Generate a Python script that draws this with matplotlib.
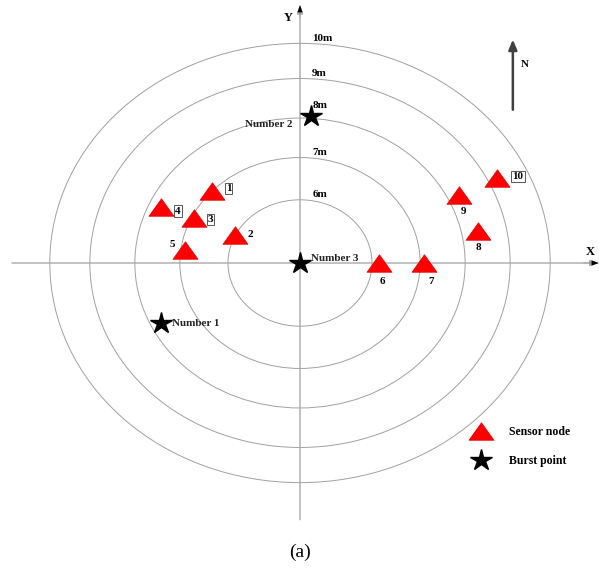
import matplotlib.pyplot as plt
from matplotlib.patches import Circle
from matplotlib.path import Path

# ring radii (plot units) and their labels
ring_labels = ["6m", "7m", "8m", "9m", "10m"]
ring_r = [1.6, 2.67, 3.67, 4.67, 5.56]
ring_label_gap = [0.14, 0.14, 0.33, 0.14, 0.12]

# sensor nodes
node_ids = ["1", "2", "3", "4", "5", "6", "7", "8", "9", "10"]
node_x = [-1.96, -1.44, -2.36, -3.09, -2.56, 1.76, 2.76, 3.96, 3.53, 4.38]
node_y = [1.82, 0.71, 1.14, 1.42, 0.33, 0.0, 0.0, 0.81, 1.72, 2.15]
node_boxed = [True, False, True, True, False, False, False, False, False, True]

# burst points
burst_names = ["Number 1", "Number 2", "Number 3"]
burst_x = [-3.09, 0.24, 0.0]
burst_y = [-1.52, 3.72, 0.0]

# label offsets for each node number (points)
label_dx = [12, 11, 12, 12, -9, 2, 5, 0, 3, 15]
label_dy = [2, 0, -1, -3, 4, -13, -13, -12, -12, 1]

serif = ["Liberation Serif", "DejaVu Serif"]
plt.rcParams['font.family'] = serif

fig = plt.figure(figsize=(5.99, 5.72), dpi=100)
ax = fig.add_axes([0, 0, 1, 1])
ax.set_xlim(-300 / 45, 299 / 45)
ax.set_ylim(-309 / 39.5, 263 / 39.5)
ax.axis("off")

# concentric rings
for r, lab, gap in zip(ring_r, ring_labels, ring_label_gap):
    ax.add_patch(Circle((0, 0), r, fill=False, ec="#a0a0a0", lw=0.7))
    ax.text(0.27, r + gap, lab, fontsize=8, fontweight="bold", ha="left", va="center")

# axes with arrows
arrow = dict(arrowstyle="-|>,head_length=0.5,head_width=0.18", color="#a8a8a8", lw=1,
             shrinkA=0, shrinkB=0)
ax.annotate("", xy=(6.64, 0), xytext=(-6.4, 0), arrowprops=arrow, annotation_clip=False)
ax.annotate("", xy=(0, 6.53), xytext=(0, -6.5), arrowprops=arrow, annotation_clip=False)
# black arrow heads on top of the grey shafts
head = dict(arrowstyle="-|>,head_length=0.5,head_width=0.18", color="black", lw=0.1,
            shrinkA=0, shrinkB=0)
ax.annotate("", xy=(6.64, 0), xytext=(6.3, 0), arrowprops=head, annotation_clip=False)
ax.annotate("", xy=(0, 6.53), xytext=(0, 6.2), arrowprops=head, annotation_clip=False)
ax.text(6.44, 0.28, "X", fontsize=9, fontweight="bold", ha="center", va="center")
ax.text(-0.27, 6.2, "Y", fontsize=9, fontweight="bold", ha="center", va="center")

# north arrow
ax.annotate("", xy=(4.73, 5.66), xytext=(4.73, 3.88),
            arrowprops=dict(arrowstyle="-|>,head_length=0.6,head_width=0.25", color="#404040",
                            lw=1.8, shrinkA=0, shrinkB=0))
ax.text(5.0, 5.03, "N", fontsize=8, fontweight="bold", ha="center", va="center")

tri = Path([(-1, -0.7), (1, -0.7), (0, 0.7), (-1, -0.7)],
           [Path.MOVETO, Path.LINETO, Path.LINETO, Path.CLOSEPOLY])

ax.plot(node_x, node_y, ls="none", marker=tri, ms=18, mfc="#ff0000", mec="#e00000", mew=0.5,
        label="Sensor node", zorder=3)
ax.plot(burst_x, burst_y, ls="none", marker="*", ms=16, color="black", label="Burst point", zorder=3)

for i, nid in enumerate(node_ids):
    bbox = dict(boxstyle="square,pad=0.1", fc="white", ec="#555555", lw=0.7) if node_boxed[i] else None
    ax.annotate(nid, (node_x[i], node_y[i]), xytext=(label_dx[i], label_dy[i]),
                textcoords="offset points", fontsize=8, fontweight="bold",
                ha="center", va="center", bbox=bbox, zorder=4)

burst_off = [(8, 0, "left"), (-13, -6, "right"), (8, 3, "left")]
for name, bx, by, (dx, dy, ha) in zip(burst_names, burst_x, burst_y, burst_off):
    ax.annotate(name, (bx, by), xytext=(dx, dy), textcoords="offset points",
                fontsize=8, fontweight="bold", color="#222222", ha=ha, va="center")

leg = ax.legend(loc="upper left", bbox_to_anchor=(463 / 599, 1 - 421 / 572), frameon=False,
                prop=dict(family=serif, weight="bold", size=8.5), handlelength=2.2,
                handletextpad=1.3, labelspacing=1.45, borderaxespad=0)

fig.text(0.5, 1 - 552 / 572, "(a)", fontsize=14, ha="center", va="center")

fig.savefig("out.png", dpi=100)
